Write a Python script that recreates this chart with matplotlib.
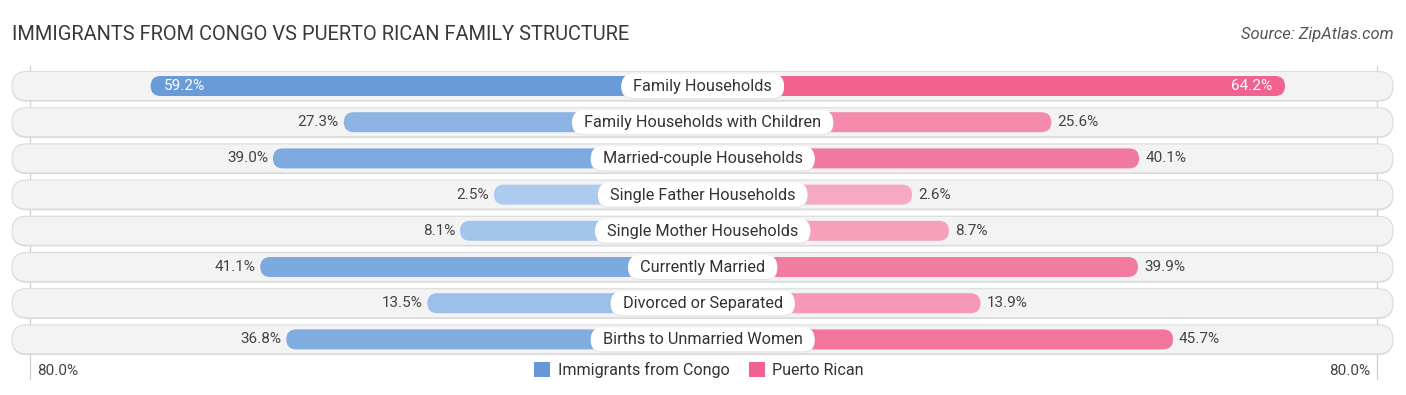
import matplotlib
matplotlib.use("Agg")
import matplotlib.pyplot as plt
from matplotlib.patches import FancyBboxPatch, Patch
import numpy as np

categories = ["Family Households", "Family Households with Children", "Married-couple Households",
              "Single Father Households", "Single Mother Households", "Currently Married",
              "Divorced or Separated", "Births to Unmarried Women"]
congo = [59.2, 27.3, 39.0, 2.5, 8.1, 41.1, 13.5, 36.8]
puerto = [64.2, 25.6, 40.1, 2.6, 8.7, 39.9, 13.9, 45.7]
series_names = ["Immigrants from Congo", "Puerto Rican"]
axis_label = "80.0%"

plt.rcParams['font.family'] = ['Roboto', 'DejaVu Sans']

W, H, DPI = 1406, 395, 100
fig = plt.figure(figsize=(W / DPI, H / DPI), dpi=DPI)
ax = fig.add_axes([0, 0, 1, 1])

# geometry (pixel based layout)
CX = 702.7          # center pixel
S = 6.055           # pixels per percent
OFF = 193.6 / S     # bar offset in percent units
ax.set_xlim(-CX / S, (W - CX) / S)
ax.set_ylim(H, 0)
ax.axis('off')

def px(x):
    return (x - CX) / S

row0, rstep = 86.0, 36.2
ys = [row0 + i * rstep for i in range(len(categories))]

blue_dark = np.array(matplotlib.colors.to_rgb('#6498d7'))
blue_light = np.array(matplotlib.colors.to_rgb('#b3cff0'))
pink_dark = np.array(matplotlib.colors.to_rgb('#f0628f'))
pink_light = np.array(matplotlib.colors.to_rgb('#f7b0c6'))

vmax = max(max(congo), max(puerto))

def shade(light, dark, v):
    t = min(1.0, v / vmax) ** 0.8
    return tuple(light + (dark - light) * t)

ASP = S  # mutation aspect
# vertical guide lines
for gx in (30, 1377):
    ax.plot([px(gx), px(gx)], [66, 379], color='#d0d0d0', lw=0.9, zorder=0.5)

# background pills
pill_h = 29
for y in ys:
    shadow = FancyBboxPatch((px(12), y - pill_h / 2 + 1.2), px(1393) - px(12), pill_h,
                            boxstyle=f"round,pad=0,rounding_size={pill_h / 2 / S}",
                            mutation_aspect=ASP, fc='#d9d9d9', ec='none', zorder=1)
    ax.add_patch(shadow)
    pill = FancyBboxPatch((px(12), y - pill_h / 2), px(1393) - px(12), pill_h,
                          boxstyle=f"round,pad=0,rounding_size={pill_h / 2 / S}",
                          mutation_aspect=ASP, fc='#f3f3f3', ec='#dcdcdc', lw=0.8, zorder=1.1)
    ax.add_patch(pill)

bar_h = 20
r = bar_h / 2 / S
VFS = 11
for y, cat, a, b in zip(ys, categories, congo, puerto):
    la = OFF + a
    lb = OFF + b
    ca = shade(blue_light, blue_dark, a)
    cb = shade(pink_light, pink_dark, b)
    ax.add_patch(FancyBboxPatch((-la, y - bar_h / 2), la, bar_h,
                                boxstyle=f"round,pad=0,rounding_size={r}",
                                mutation_aspect=ASP, fc=ca, ec='none', zorder=2))
    ax.add_patch(FancyBboxPatch((0, y - bar_h / 2), lb, bar_h,
                                boxstyle=f"round,pad=0,rounding_size={r}",
                                mutation_aspect=ASP, fc=cb, ec='none', zorder=2))
    # value labels
    if a > 50:
        ax.text(-la + 13 / S, y, f"{a:.1f}%", ha='left', va='center', color='white',
                fontsize=VFS, zorder=4)
    else:
        ax.text(-la - 5 / S, y, f"{a:.1f}%", ha='right', va='center', color='#444444',
                fontsize=VFS, zorder=4)
    if b > 50:
        ax.text(lb - 13 / S, y, f"{b:.1f}%", ha='right', va='center', color='white',
                fontsize=VFS, zorder=4)
    else:
        ax.text(lb + 6 / S, y, f"{b:.1f}%", ha='left', va='center', color='#444444',
                fontsize=VFS, zorder=4)

# center labels with white rounded boxes
renderer = fig.canvas.get_renderer()
lab_h = 24
for y, cat in zip(ys, categories):
    t = ax.text(0, y + 0.5, cat, ha='center', va='center', color='#333333',
                fontsize=11.7, zorder=6)
    bb = t.get_window_extent(renderer)
    wpx = bb.width + 24
    ax.add_patch(FancyBboxPatch((-wpx / 2 / S, y - lab_h / 2 + 1.2), wpx / S, lab_h,
                                boxstyle=f"round,pad=0,rounding_size={lab_h / 2 / S}",
                                mutation_aspect=ASP, fc='#e4e4e4', ec='none', zorder=4.9))
    ax.add_patch(FancyBboxPatch((-wpx / 2 / S, y - lab_h / 2), wpx / S, lab_h,
                                boxstyle=f"round,pad=0,rounding_size={lab_h / 2 / S}",
                                mutation_aspect=ASP, fc='white', ec='none', zorder=5))

# title & source
fig.text(12 / W, 1 - 34 / H, "IMMIGRANTS FROM CONGO VS PUERTO RICAN FAMILY STRUCTURE",
         ha='left', va='center', fontsize=14.4, color='#3a3a3a')
fig.text(1394 / W, 1 - 34 / H, "Source: ZipAtlas.com", ha='right', va='center',
         fontsize=11.9, color='#555555', style='italic')

# axis labels
fig.text(37 / W, 1 - 371 / H, axis_label, ha='left', va='center', fontsize=11, color='#444444')
fig.text(1370 / W, 1 - 371 / H, axis_label, ha='right', va='center', fontsize=11, color='#444444')

# legend
handles = [Patch(fc=blue_dark, ec='none'), Patch(fc=pink_dark, ec='none')]
ax.legend(handles, series_names, loc='center', bbox_to_anchor=(699 / W, 1 - 370 / H),
          ncol=2, frameon=False, fontsize=11.6, handlelength=1.0, handleheight=1.0,
          handletextpad=0.45, columnspacing=1.2, labelcolor='#333333',
          borderaxespad=0, borderpad=0)

fig.savefig("out.png", dpi=DPI)
